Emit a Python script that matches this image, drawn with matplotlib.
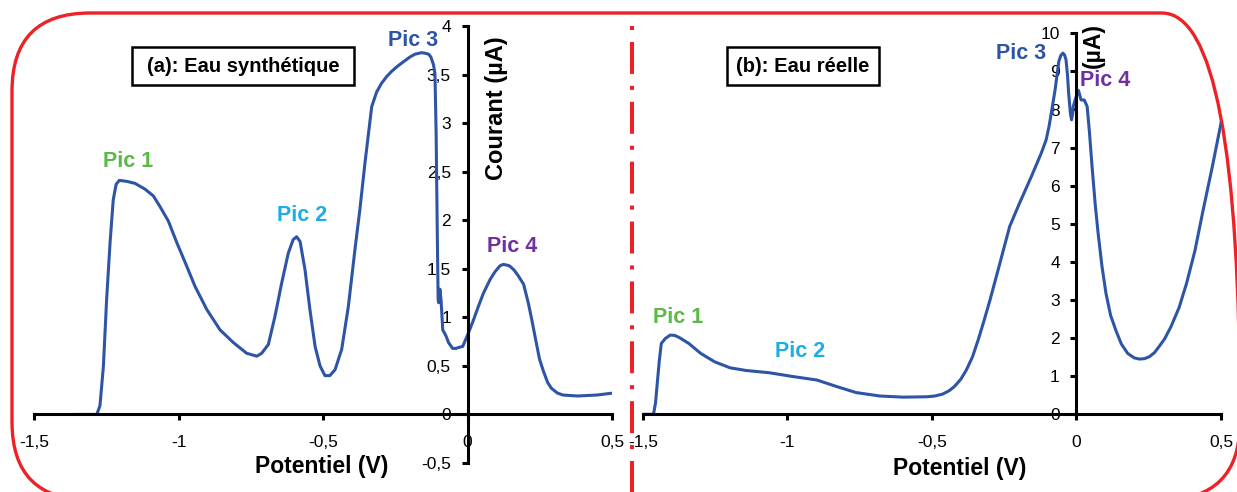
import numpy as np
import matplotlib
matplotlib.use("Agg")
import matplotlib.pyplot as plt
from matplotlib.patches import FancyBboxPatch, Rectangle

# ===================== data =====================
# (a) Eau synthétique : potentiel (V) / courant (µA)
pot_a = [-1.354, -1.284, -1.273, -1.261, -1.250, -1.238, -1.227, -1.217, -1.206, -1.180,
         -1.152, -1.117, -1.088, -1.065, -1.036, -1.007, -0.973, -0.944, -0.903, -0.857,
         -0.811, -0.765, -0.730, -0.713, -0.690, -0.667, -0.644, -0.621, -0.604, -0.592,
         -0.580, -0.563, -0.546, -0.528, -0.511, -0.494, -0.477, -0.459, -0.436, -0.413,
         -0.390, -0.373, -0.355, -0.332, -0.315, -0.298, -0.280, -0.264, -0.245, -0.223,
         -0.200, -0.182, -0.160, -0.148, -0.135, -0.127, -0.118, -0.113, -0.109, -0.105,
         -0.102, -0.100, -0.096, -0.092, -0.086, -0.075, -0.066, -0.052, -0.040, -0.031,
         -0.017, 0.003, 0.020, 0.037, 0.055, 0.078, 0.095, 0.112, 0.123, 0.133,
         0.145, 0.160, 0.175, 0.194, 0.210, 0.222, 0.235, 0.249, 0.262, 0.277,
         0.290, 0.311, 0.330, 0.380, 0.448, 0.503]
cur_a = [0.00, 0.00, 0.09, 0.50, 1.18, 1.77, 2.21, 2.37, 2.41, 2.40,
         2.38, 2.32, 2.25, 2.14, 1.99, 1.77, 1.53, 1.32, 1.08, 0.87,
         0.74, 0.63, 0.60, 0.63, 0.72, 1.01, 1.35, 1.66, 1.80, 1.83,
         1.78, 1.49, 1.08, 0.70, 0.50, 0.40, 0.40, 0.46, 0.67, 1.11,
         1.70, 2.11, 2.60, 3.17, 3.32, 3.41, 3.48, 3.53, 3.58, 3.63,
         3.68, 3.71, 3.725, 3.72, 3.71, 3.68, 3.60, 3.51, 2.90, 1.87,
         1.18, 1.15, 1.29, 1.18, 0.87, 0.81, 0.74, 0.68, 0.68, 0.69,
         0.70, 0.84, 0.97, 1.11, 1.25, 1.39, 1.47, 1.53, 1.545, 1.54,
         1.53, 1.49, 1.43, 1.34, 1.15, 0.98, 0.78, 0.57, 0.45, 0.33,
         0.27, 0.22, 0.20, 0.19, 0.20, 0.22]

# (b) Eau réelle
pot_b = [-1.500, -1.463, -1.456, -1.450, -1.443, -1.436, -1.422, -1.405, -1.390, -1.375,
         -1.341, -1.300, -1.252, -1.198, -1.143, -1.062, -0.980, -0.898, -0.830, -0.762,
         -0.680, -0.599, -0.517, -0.490, -0.463, -0.440, -0.422, -0.400, -0.381, -0.360,
         -0.340, -0.320, -0.299, -0.265, -0.231, -0.197, -0.156, -0.122, -0.105, -0.095,
         -0.085, -0.074, -0.061, -0.054, -0.047, -0.041, -0.036, -0.031, -0.027, -0.021,
         -0.017, -0.013, -0.011, -0.003, 0.007, 0.016, 0.027, 0.037, 0.045, 0.054,
         0.065, 0.075, 0.088, 0.102, 0.118, 0.136, 0.155, 0.177, 0.200, 0.218,
         0.235, 0.252, 0.270, 0.286, 0.305, 0.327, 0.355, 0.381, 0.410, 0.436,
         0.470, 0.500]
cur_b = [0.00, 0.00, 0.30, 0.81, 1.40, 1.86, 1.99, 2.08, 2.07, 2.02,
         1.86, 1.60, 1.38, 1.22, 1.15, 1.09, 0.99, 0.90, 0.73, 0.57,
         0.48, 0.45, 0.46, 0.48, 0.53, 0.62, 0.73, 0.92, 1.16, 1.50,
         1.95, 2.45, 3.00, 3.96, 4.93, 5.54, 6.24, 6.85, 7.20, 7.55,
         8.00, 8.51, 9.26, 9.42, 9.48, 9.43, 9.30, 8.90, 8.43, 7.90,
         7.73, 7.90, 8.08, 8.29, 8.50, 8.25, 8.25, 8.08, 7.40, 6.50,
         5.50, 4.75, 3.90, 3.18, 2.60, 2.21, 1.85, 1.60, 1.48, 1.45,
         1.46, 1.51, 1.62, 1.78, 1.98, 2.30, 2.80, 3.44, 4.30, 5.28,
         6.50, 7.64]

x_ticks = [-1.5, -1.0, -0.5, 0.0, 0.5]
y_ticks_a = [-0.5, 0, 0.5, 1, 1.5, 2, 2.5, 3, 3.5, 4]
y_ticks_b = [0, 1, 2, 3, 4, 5, 6, 7, 8, 9, 10]

pics = ["Pic 1", "Pic 2", "Pic 3", "Pic 4"]
pic_colors = ["#5cb848", "#1badE3", "#2e55a5", "#7030a0"]
pic_pos_a = [(-1.174, 2.60), (-0.572, 2.05), (-0.189, 3.85), (0.154, 1.73)]
pic_pos_b = [(-1.378, 2.55), (-0.956, 1.64), (-0.192, 9.48), (0.099, 8.77)]

LINE = "#2e55a5"
RED = "#ec2227"
W, H = 1237, 492

plt.rcParams['font.family'] = ['Liberation Sans', 'DejaVu Sans']
plt.rcParams['lines.scale_dashes'] = False


def fmt(v):
    return f"{v:g}".replace(".", ",")


fig = plt.figure(figsize=(W / 100, H / 100), dpi=100)

# calque en pixels (y compté depuis le bas) pour le cadre et les textes libres
ov = fig.add_axes([0, 0, 1, 1], zorder=0)
ov.set_xlim(0, W)
ov.set_ylim(0, H)
ov.axis("off")


def top(y):
    # position en pixels image (depuis le haut) -> calque
    return H - y


def style_axes(ax, ylim, yticks):
    ax.set_xlim(-1.5, 0.5)
    ax.set_ylim(*ylim)
    ax.patch.set_alpha(0)
    for s in ["top", "right"]:
        ax.spines[s].set_visible(False)
    ax.spines["left"].set_position(("data", 0))
    ax.spines["bottom"].set_position(("data", 0))
    for s in ["left", "bottom"]:
        ax.spines[s].set_linewidth(2.2)
        ax.spines[s].set_color("black")
    ax.set_xticks(x_ticks)
    ax.set_xticklabels([fmt(v) for v in x_ticks])
    ax.set_yticks(yticks)
    ax.set_yticklabels([fmt(v) for v in yticks])
    ax.tick_params(axis="x", direction="out", length=4, width=2.2, pad=11, labelsize=12.5)
    ax.tick_params(axis="y", direction="out", length=4, width=2.2, pad=8, labelsize=12.5)


# ----- panel (a)
ax1 = fig.add_axes([34.4 / W, 1 - 463 / H, (612 - 34.4) / W, (463 - 26) / H], zorder=1)
style_axes(ax1, (-0.5, 4), y_ticks_a)
ax1.plot(pot_a, cur_a, color=LINE, lw=2.2, solid_joinstyle="round")
for name, c, (x, y) in zip(pics, pic_colors, pic_pos_a):
    ax1.text(x, y, name, color=c, fontsize=15.5, fontweight="bold", ha="center", va="center")

# ----- panel (b)
ax2 = fig.add_axes([642.8 / W, 1 - 414.3 / H, (1221 - 642.8) / W, (414.3 - 33.3) / H], zorder=1)
style_axes(ax2, (0, 10), y_ticks_b)
ax2.plot(pot_b, cur_b, color=LINE, lw=2.2, solid_joinstyle="round")
for name, c, (x, y) in zip(pics, pic_colors, pic_pos_b):
    ax2.text(x, y, name, color=c, fontsize=15.5, fontweight="bold", ha="center", va="center")

# titres des axes
ov.text(322, top(467), "Potentiel (V)", fontsize=16.5, fontweight="bold", ha="center", va="center")
ov.text(960, top(468), "Potentiel (V)", fontsize=16.5, fontweight="bold", ha="center", va="center")
ov.text(497, top(108), "Courant (µA)", fontsize=17, fontweight="bold", rotation=90,
        ha="center", va="center")
ov.text(1093, top(45), "(µA)", fontsize=16.5, fontweight="bold", rotation=90,
        ha="center", va="center")

# titres encadrés
for (x0, x1, y0, y1, label) in [(132, 354, 47, 85, "(a): Eau synthétique"),
                                (727, 879, 47, 85, "(b): Eau réelle")]:
    ov.add_patch(Rectangle((x0, top(y1)), x1 - x0, y1 - y0, fill=False, ec="black", lw=1.8))
    ov.text((x0 + x1) / 2, top((y0 + y1) / 2), label, fontsize=14.5, fontweight="bold",
            ha="center", va="center")

# cadre rouge arrondi
ov.add_patch(FancyBboxPatch((12, top(500)), 1228, 487, boxstyle="round,pad=0,rounding_size=78",
                            fill=False, ec=RED, lw=2.4, clip_on=False))

# séparateur trait-point
ov.plot([632, 632], [top(26), top(492)], color=RED, lw=2.9, solid_capstyle="butt",
        dash_capstyle="butt", dashes=(2.9, 8.6, 23, 8.6))

fig.savefig("out.png", dpi=100)
